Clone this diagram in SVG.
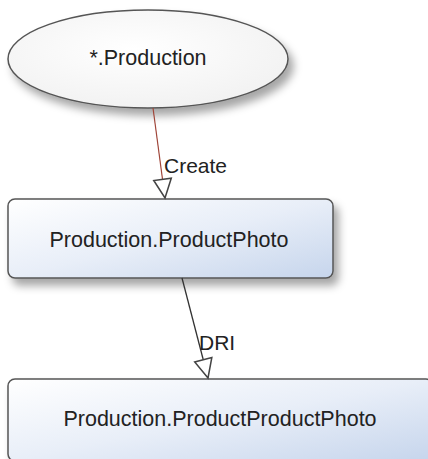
<svg xmlns="http://www.w3.org/2000/svg" width="428" height="459" viewBox="0 0 428 459">
<style>
text{font-family:"Liberation Sans",Arial,sans-serif;font-size:21.5px;fill:#222}
.node{stroke:#555;stroke-width:1.5}
.lbl{font-size:21px}
</style>
<defs>
<linearGradient id="rg" x1="0" y1="0" x2="1" y2="1">
<stop offset="0" stop-color="#ffffff"/>
<stop offset="0.5" stop-color="#e8eef8"/>
<stop offset="1" stop-color="#c6d5ec"/>
</linearGradient>
<radialGradient id="eg" cx="0.45" cy="0.4" r="0.7">
<stop offset="0" stop-color="#ffffff"/>
<stop offset="1" stop-color="#f0f0f0"/>
</radialGradient>
<filter id="sh" x="-10%" y="-20%" width="130%" height="160%">
<feDropShadow dx="5" dy="7" stdDeviation="4" flood-color="#000" flood-opacity="0.35"/>
</filter>
<marker id="ah" markerUnits="userSpaceOnUse" markerWidth="20" markerHeight="20" refX="16" refY="0" viewBox="0 -8 17 16" orient="auto" overflow="visible">
<path d="M0,-7.5 L16,0 L0,7.5 Z" fill="#fff" stroke="#444" stroke-width="1.3"/>
</marker>
</defs>
<g id="n1">
<ellipse cx="148" cy="59" rx="140" ry="49" fill="url(#eg)" class="node" filter="url(#sh)"/>
<text x="148" y="65" text-anchor="middle">*.Production</text>
</g>
<g id="n2">
<rect x="8" y="199" width="325" height="79" rx="7" fill="url(#rg)" class="node" filter="url(#sh)"/>
<text x="169" y="247" text-anchor="middle">Production.ProductPhoto</text>
</g>
<g id="n3">
<rect x="8" y="379" width="425" height="82" rx="7" fill="url(#rg)" class="node" filter="url(#sh)"/>
<text x="220" y="426" text-anchor="middle">Production.ProductProductPhoto</text>
</g>
<g id="connectors">
<line x1="153" y1="108" x2="165" y2="198" stroke="#a0463a" stroke-width="1.2" marker-end="url(#ah)"/>
<text class="lbl" x="164" y="173">Create</text>
<line x1="182" y1="278" x2="208" y2="378" stroke="#333" stroke-width="1.3" marker-end="url(#ah)"/>
<text class="lbl" x="199" y="350">DRI</text>
</g>
</svg>
